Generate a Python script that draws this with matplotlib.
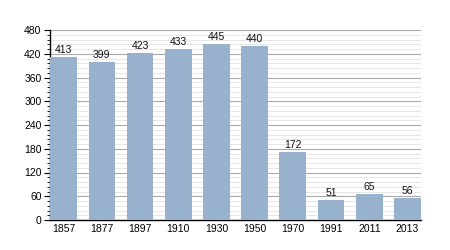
import matplotlib
matplotlib.use("Agg")
import matplotlib.pyplot as plt
from matplotlib.ticker import MultipleLocator

years = ['1857', '1877', '1897', '1910', '1930', '1950', '1970', '1991', '2011', '2013']
population = [413, 399, 423, 433, 445, 440, 172, 51, 65, 56]

plt.rcParams['font.family'] = ['Liberation Sans', 'DejaVu Sans']

fig = plt.figure(figsize=(4.5, 2.5), dpi=100)
ax = fig.add_axes([0.111, 0.12, 0.825, 0.76])

x = range(len(years))
bars = ax.bar(x, population, width=0.7, color='#98b1cc', zorder=3)
for xi, v in zip(x, population):
    ax.text(xi, v + 5, str(v), ha='center', va='bottom', fontsize=7.5, color='#111111', zorder=4)

ax.set_xlim(-0.36, len(years) - 0.64)
ax.set_ylim(0, 480)
ax.set_xticks(list(x))
ax.set_xticklabels(years)
ax.yaxis.set_major_locator(MultipleLocator(60))
ax.yaxis.set_minor_locator(MultipleLocator(12))

# сетка: основные линии темнее, дополнительные светлые
ax.grid(axis='y', which='major', color='#a8a8a8', linewidth=0.8, zorder=1)
ax.grid(axis='y', which='minor', color='#e2e2e2', linewidth=0.6, zorder=0)

ax.spines['top'].set_visible(False)
ax.spines['right'].set_visible(False)
ax.spines['left'].set_linewidth(1.0)
ax.spines['bottom'].set_linewidth(1.0)
ax.tick_params(axis='x', length=0, labelsize=7.5, pad=3)
ax.tick_params(axis='y', which='major', length=4, labelsize=7.5, pad=2)
ax.tick_params(axis='y', which='minor', length=2)

fig.savefig('out.png', dpi=100)
